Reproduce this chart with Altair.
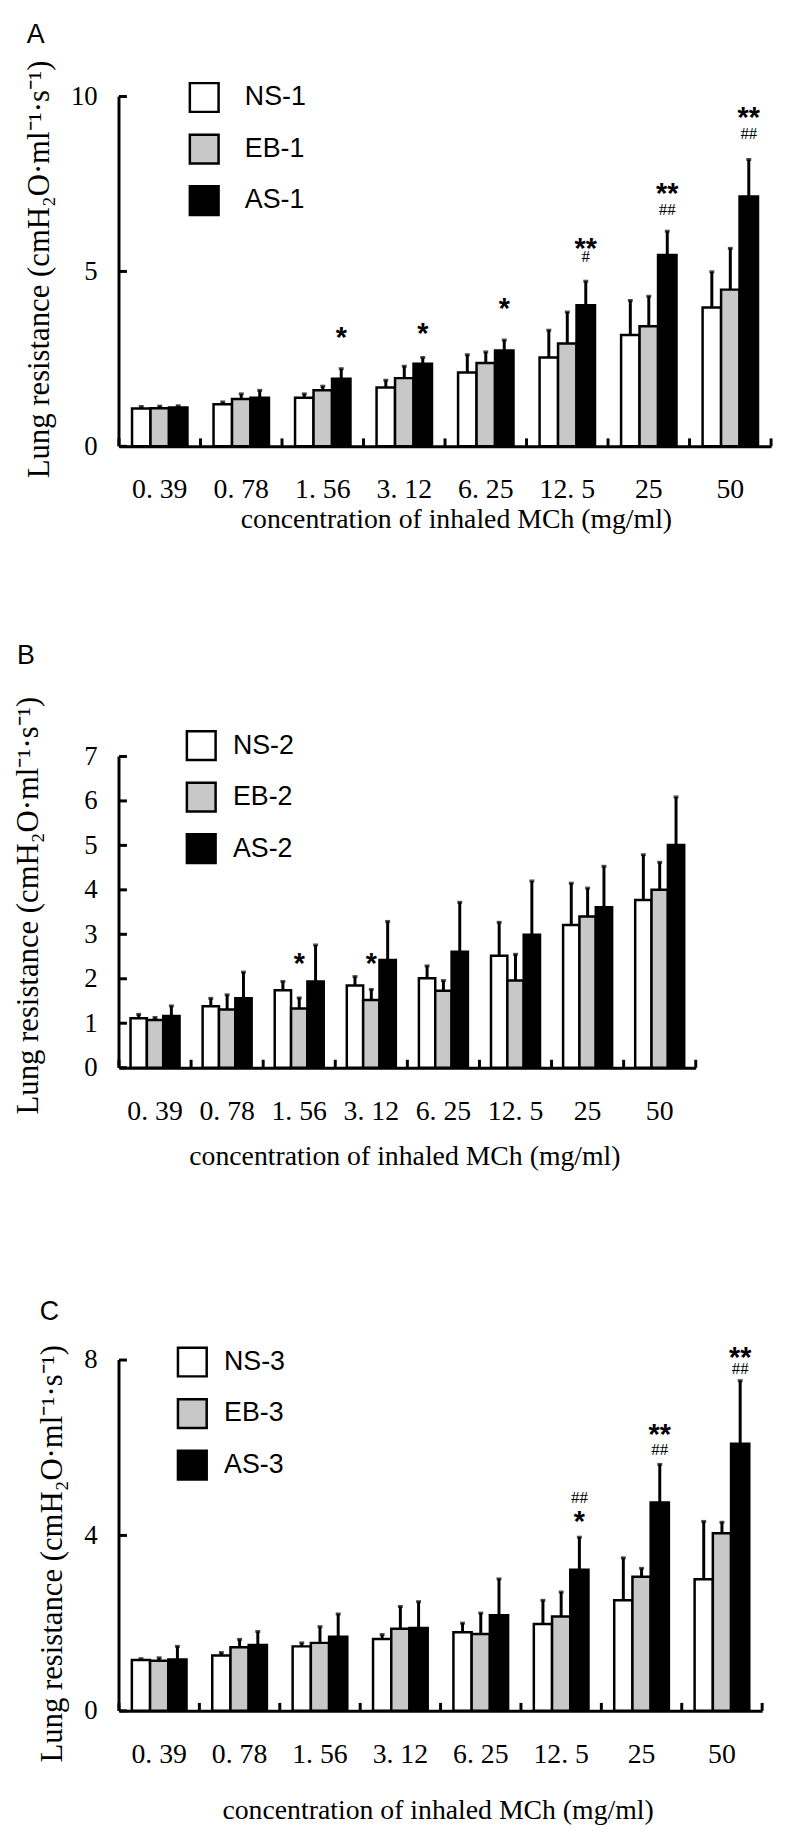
import altair as alt
import pandas as pd

CATS = ["0. 39", "0. 78", "1. 56", "3. 12", "6. 25", "12. 5", "25", "50"]
GROUPS = ["NS", "EB", "AS"]

X_TITLE = "concentration of inhaled MCh (mg/ml)"
Y_TITLE = "Lung resistance (cmH₂O·ml⁻¹·s⁻¹)"

# ---- Panel A values (mean, SD) ----
A_NS = [1.08, 1.20, 1.39, 1.68, 2.11, 2.54, 3.18, 3.97]
A_NS_SD = [0.06, 0.07, 0.11, 0.21, 0.51, 0.78, 0.99, 1.02]
A_EB = [1.09, 1.35, 1.60, 1.95, 2.38, 2.94, 3.43, 4.48]
A_EB_SD = [0.06, 0.15, 0.12, 0.34, 0.32, 0.90, 0.86, 1.18]
A_AS = [1.11, 1.39, 1.93, 2.36, 2.74, 4.03, 5.47, 7.14]
A_AS_SD = [0.05, 0.21, 0.29, 0.18, 0.30, 0.69, 0.68, 1.06]
A_ANN_CAT = ["1. 56", "3. 12", "6. 25", "12. 5", "12. 5", "25", "25", "50", "50"]
A_ANN_LAB = ["*", "*", "*", "**", "#", "**", "##", "**", "##"]
A_ANN_POS = [3.21, 3.33, 4.04, 5.76, 5.43, 7.32, 6.78, 9.49, 8.95]
A_ANN_GRP = ["AS"] * 9

# ---- Panel B values ----
B_NS = [1.11, 1.38, 1.74, 1.85, 2.01, 2.52, 3.21, 3.77]
B_NS_SD = [0.09, 0.18, 0.20, 0.20, 0.28, 0.75, 0.94, 1.02]
B_EB = [1.07, 1.31, 1.33, 1.52, 1.73, 1.96, 3.40, 4.00]
B_EB_SD = [0.06, 0.33, 0.24, 0.24, 0.23, 0.59, 0.64, 0.62]
B_AS = [1.16, 1.56, 1.94, 2.42, 2.61, 2.99, 3.61, 5.01]
B_AS_SD = [0.23, 0.59, 0.82, 0.87, 1.11, 1.21, 0.92, 1.08]
B_ANN_CAT = ["1. 56", "3. 12"]
B_ANN_LAB = ["*", "*"]
B_ANN_POS = [2.41, 2.41]
B_ANN_GRP = ["EB", "EB"]

# ---- Panel C values ----
C_NS = [1.16, 1.26, 1.47, 1.64, 1.79, 1.98, 2.52, 3.00]
C_NS_SD = [0.03, 0.07, 0.08, 0.10, 0.21, 0.54, 0.97, 1.32]
C_EB = [1.14, 1.45, 1.55, 1.87, 1.75, 2.15, 3.06, 4.05]
C_EB_SD = [0.07, 0.18, 0.37, 0.51, 0.48, 0.56, 0.19, 0.25]
C_AS = [1.17, 1.50, 1.69, 1.89, 2.18, 3.22, 4.75, 6.09]
C_AS_SD = [0.30, 0.31, 0.52, 0.60, 0.83, 0.74, 0.87, 1.44]
C_ANN_CAT = ["12. 5", "12. 5", "25", "25", "50", "50"]
C_ANN_LAB = ["##", "*", "**", "##", "**", "##"]
C_ANN_POS = [4.88, 4.39, 6.39, 5.97, 8.14, 7.82]
C_ANN_GRP = ["AS"] * 6

SERIF = "Liberation Serif"
SANS = "Liberation Sans"
EB_FILL = "#c8c8c8"


def make_panel(p):
    rows = []
    for g, means, sds in zip(GROUPS, p["means"], p["sds"]):
        for c, m, s in zip(CATS, means, sds):
            rows.append({"cat": c, "g": g, "series": f"{g}-{p['n']}", "v": m, "top": m + s})
    df = pd.DataFrame(rows)
    ann = pd.DataFrame({"cat": p["ann_cat"], "g": p["ann_grp"], "lab": p["ann_lab"], "pos": p["ann_pos"]})
    stars = ann[ann["lab"].str.startswith("*")]
    hashes = ann[ann["lab"].str.startswith("#")]
    series_dom = [f"{g}-{p['n']}" for g in GROUPS]
    W, H = p["W"], p["H"]

    xscale = alt.Scale(paddingInner=0, paddingOuter=0)
    xaxis = alt.Axis(
        labelAngle=0, labelFont=SERIF, labelFontSize=28, labelColor="black",
        labelBaseline="middle", labelPadding=44, ticks=False, tickSize=0,
        domain=True, domainColor="black", domainWidth=3, grid=False,
        titleFont=SERIF, titleFontSize=28, titleFontWeight="normal", titleColor="black",
        titleX=p["xtx"], titleY=p["xty"], titleBaseline="middle", titleAlign="center",
    )
    yscale = alt.Scale(domain=[0, p["ymax"]], nice=False, zero=True)
    yaxis = alt.Axis(
        values=p["yticks"], format="d", labelFont=SERIF, labelFontSize=27, labelColor="black",
        labelPadding=22, ticks=False, tickSize=0, domain=False, grid=False,
        titleFont=SERIF, titleFontSize=31, titleFontWeight="normal", titleColor="black",
        titleAngle=270, titleX=p["ytx"], titleY=p["yty"], titleBaseline="middle", titleAlign="center",
    )

    def xenc(**kw):
        return alt.X("cat:N", sort=CATS, scale=xscale, axis=xaxis, title=X_TITLE, **kw)

    def yenc(field):
        return alt.Y(field, scale=yscale, axis=yaxis, title=Y_TITLE)

    xo = alt.XOffset("g:N", sort=GROUPS,
                     scale=alt.Scale(domain=GROUPS, paddingInner=0, paddingOuter=0.706))

    bars = alt.Chart(df).mark_bar(stroke="black", strokeWidth=2.5).encode(
        x=xenc(), xOffset=xo, y=yenc("v:Q"),
        fill=alt.Fill("series:N", scale=alt.Scale(domain=series_dom, range=["white", EB_FILL, "black"]),
                      legend=alt.Legend(
                          orient="none", legendX=p["lx"], legendY=p["ly"], title=None,
                          symbolType="square", symbolSize=841, symbolStrokeColor="black",
                          symbolStrokeWidth=2.5, symbolOpacity=1, labelFont=SANS, labelFontSize=27,
                          labelColor="black", labelOffset=p["lo"], rowPadding=12, padding=0)),
    )
    err = alt.Chart(df).mark_rule(color="black", strokeWidth=3).encode(
        x=xenc(), xOffset=xo, y=yenc("v:Q"), y2="top:Q")
    cap = alt.Chart(df).mark_tick(color="black", orient="horizontal", size=5, thickness=3).encode(
        x=xenc(), xOffset=xo, y=yenc("top:Q"))
    star_t = alt.Chart(stars).mark_text(font=SANS, fontSize=29, fontWeight="bold", color="black",
                                        baseline="middle", align="center", dy=4).encode(
        x=xenc(), xOffset=xo, y=yenc("pos:Q"), text="lab:N")
    hash_t = alt.Chart(hashes).mark_text(font=SERIF, fontSize=17, color="black",
                                         baseline="middle", align="center", dy=1).encode(
        x=xenc(), xOffset=xo, y=yenc("pos:Q"), text="lab:N")

    yline = alt.Chart(pd.DataFrame({"y0": [0], "y1": [p["ytop"]]})).mark_rule(
        color="black", strokeWidth=3).encode(x=alt.value(0), y=yenc("y0:Q"), y2="y1:Q")
    yticks = alt.Chart(pd.DataFrame({"t": p["yticks"]})).mark_rule(
        color="black", strokeWidth=3).encode(y=yenc("t:Q"), x=alt.value(0), x2=alt.value(8))
    xticks = alt.Chart(pd.DataFrame({"cat": CATS})).mark_rule(
        color="black", strokeWidth=3).encode(x=xenc(bandPosition=0), y=alt.value(H), y2=alt.value(H - 8))
    xend = alt.Chart(pd.DataFrame({"k": [0]})).mark_rule(
        color="black", strokeWidth=3).encode(x=alt.value(W), y=alt.value(H), y2=alt.value(H - 8))
    letter = alt.Chart(pd.DataFrame({"t": [p["letter"]]})).mark_text(
        font=SANS, fontSize=27, align="left", baseline="alphabetic", color="black").encode(
        x=alt.value(p["letx"]), y=alt.value(p["lety"]), text="t:N")

    return alt.layer(bars, err, cap, star_t, hash_t, yline, yticks, xticks, xend, letter).properties(
        width=W, height=H)


PANELS = [
    dict(n=1, letter="A", means=[A_NS, A_EB, A_AS], sds=[A_NS_SD, A_EB_SD, A_AS_SD],
         ann_cat=A_ANN_CAT, ann_lab=A_ANN_LAB, ann_pos=A_ANN_POS, ann_grp=A_ANN_GRP,
         ymax=10, ytop=10, yticks=[0, 5, 10], W=658, H=353, lx=70, ly=-15, lo=25,
         letx=-93, lety=-54, ytx=-80, yty=174, xtx=340, xty=74),
    dict(n=2, letter="B", means=[B_NS, B_EB, B_AS], sds=[B_NS_SD, B_EB_SD, B_AS_SD],
         ann_cat=B_ANN_CAT, ann_lab=B_ANN_LAB, ann_pos=B_ANN_POS, ann_grp=B_ANN_GRP,
         ymax=7.4, ytop=7, yticks=[0, 1, 2, 3, 4, 5, 6, 7], W=582, H=332, lx=67, ly=-9, lo=16,
         letx=-103, lety=-75, ytx=-91, yty=168, xtx=288, xty=90),
    dict(n=3, letter="C", means=[C_NS, C_EB, C_AS], sds=[C_NS_SD, C_EB_SD, C_AS_SD],
         ann_cat=C_ANN_CAT, ann_lab=C_ANN_LAB, ann_pos=C_ANN_POS, ann_grp=C_ANN_GRP,
         ymax=8, ytop=8, yticks=[0, 4, 8], W=649, H=354, lx=58, ly=-14, lo=16,
         letx=-80, lety=-40, ytx=-67, yty=195, xtx=321.5, xty=101),
]

chart = alt.vconcat(*[make_panel(p) for p in PANELS], spacing=295).properties(
    bounds="flush",
    padding={"left": 4, "top": 5, "right": 5, "bottom": 5},
    background="white",
).resolve_scale(
    x="independent", y="independent", fill="independent", xOffset="independent"
).resolve_legend(fill="independent").configure_view(stroke=None)

chart.save("out.html", embed_options={"renderer": "svg", "actions": False})
